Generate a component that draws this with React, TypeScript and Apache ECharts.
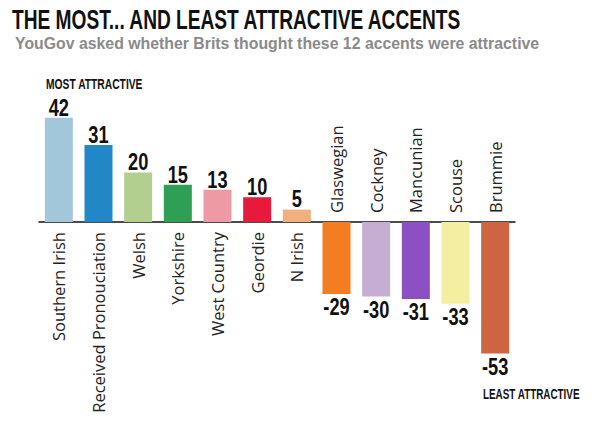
import React, { useEffect, useRef } from "react";
import * as echarts from "echarts";

const categories = [
  "Southern Irish",
  "Received Pronouciation",
  "Welsh",
  "Yorkshire",
  "West Country",
  "Geordie",
  "N Irish",
  "Glaswegian",
  "Cockney",
  "Mancunian",
  "Scouse",
  "Brummie",
];
const values = [42, 31, 20, 15, 13, 10, 5, -29, -30, -31, -33, -53];
const colors = [
  "#a3c7da",
  "#2287c6",
  "#b3cf90",
  "#2f9f55",
  "#ee9aa4",
  "#e81a3b",
  "#f1b07f",
  "#f47c22",
  "#c5aed2",
  "#8b50c1",
  "#f4eea0",
  "#cd6541",
];
const titleText = "THE MOST... AND LEAST ATTRACTIVE ACCENTS";
const subtitleText = "YouGov asked whether Brits thought these 12 accents were attractive";
const mostText = "MOST ATTRACTIVE";
const leastText = "LEAST ATTRACTIVE";

const COND = "'Liberation Sans', Arial, sans-serif";
const CAT_FONT = "'Open Sans', sans-serif";
const CAT_SIZE = 16.5;

function measure(text: string, font: string): number {
  const c = document.createElement("canvas");
  const ctx = c.getContext("2d");
  if (!ctx) return 1;
  ctx.font = font;
  return ctx.measureText(text).width || 1;
}

// capTop: desired y of the capital letters' top
function fitText(text: string, x: number, capTop: number, size: number, width: number, fill: string) {
  const font = `bold ${size}px ${COND}`;
  const w = measure(text, font);
  return {
    type: "text",
    x,
    y: capTop - size * 0.19,
    scaleX: width / w,
    silent: true,
    style: {
      text,
      font,
      fill,
      textAlign: "left",
      textVerticalAlign: "top",
    },
  };
}

function nameSeries(positive: boolean) {
  return {
    type: "bar",
    barWidth: 28,
    barGap: "-100%",
    silent: true,
    itemStyle: { color: "transparent" },
    data: values.map((v) => ((positive ? v >= 0 : v < 0) ? 0 : "-")),
    label: {
      show: true,
      position: positive ? "bottom" : "top",
      distance: positive ? 10 : 9,
      rotate: 90,
      align: positive ? "right" : "left",
      verticalAlign: "middle",
      fontFamily: CAT_FONT,
      fontSize: CAT_SIZE,
      color: "#222",
      formatter: (p: any) => categories[p.dataIndex],
    },
  };
}

export default function App() {
  const ref = useRef<HTMLDivElement>(null);
  useEffect(() => {
    document.body.style.margin = "0";
    if (!ref.current) return;
    const chart = echarts.init(ref.current, null, { renderer: "svg" });
    const valueFont = `bold 24px ${COND}`;
    chart.setOption({
      animation: false,
      backgroundColor: "#ffffff",
      grid: {
        left: 39,
        right: 80,
        top: 98,
        bottom: 66.2,
        containLabel: false,
        outerBoundsMode: "none",
      },
      xAxis: {
        type: "category",
        data: categories,
        axisLine: { onZero: true, lineStyle: { color: "#111", width: 1.5 } },
        axisTick: { show: false },
        axisLabel: { show: false },
      },
      yAxis: {
        type: "value",
        min: -60,
        max: 50,
        show: false,
        splitLine: { show: false },
      },
      series: [
        {
          type: "bar",
          barWidth: 28,
          data: values.map((v, i) => ({
            value: v,
            itemStyle: { color: colors[i] },
          })),
        },
        nameSeries(true),
        nameSeries(false),
        {
          type: "custom",
          silent: true,
          data: values.map((v, i) => [i, v]),
          renderItem: (params: any, api: any) => {
            const v = api.value(1);
            const p = api.coord([api.value(0), v]);
            return {
              type: "text",
              x: p[0],
              y: p[1] + (v >= 0 ? 2 : 1.5),
              scaleX: 0.76,
              style: {
                text: String(v),
                font: valueFont,
                fill: "#111",
                textAlign: "center",
                textVerticalAlign: v >= 0 ? "bottom" : "top",
              },
            };
          },
        },
      ],
      graphic: [
        fitText(titleText, 12, 10, 28, 451, "#111"),
        fitText(subtitleText, 15, 39, 16, 525, "#8a8a8a"),
        fitText(mostText, 46, 80, 14, 97, "#111"),
        fitText(leastText, 483, 390, 15, 97, "#111"),
      ],
    });
    return () => chart.dispose();
  }, []);
  return <div ref={ref} style={{ width: 595, height: 437 }} />;
}
